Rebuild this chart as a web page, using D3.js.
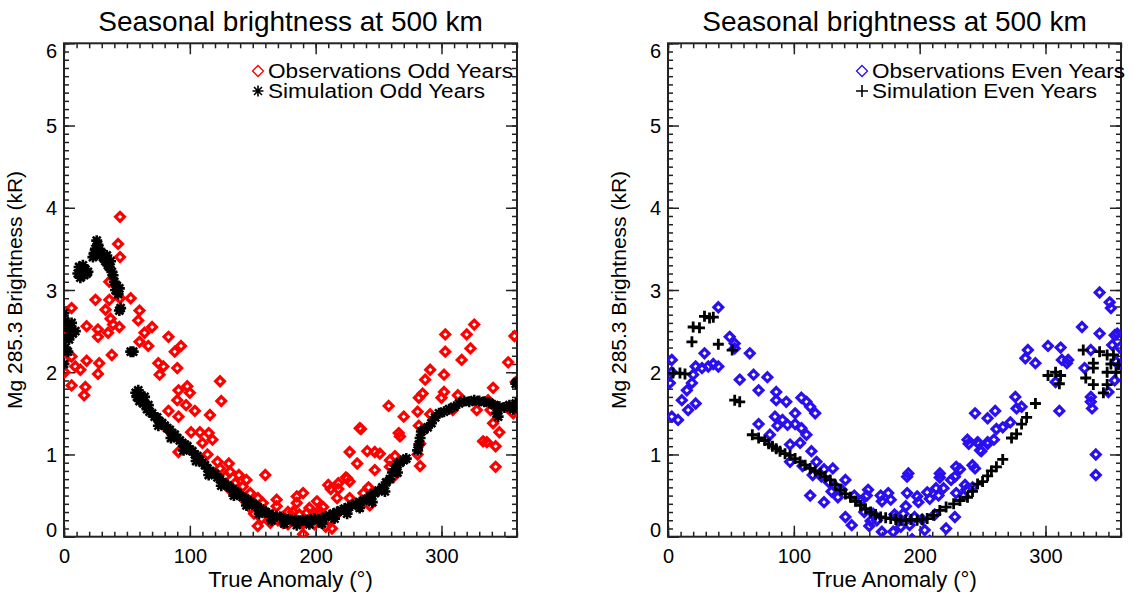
<!DOCTYPE html>
<html>
<head>
<meta charset="utf-8">
<script src="https://cdn.jsdelivr.net/npm/d3@7"></script>
<style>
  body { margin: 0; background: #fff; }
  text { font-family: "Liberation Sans", Arial, sans-serif; fill: #000; }
</style>
</head>
<body>
<div id="chart"></div>
<script>
// Tick values and titles
const xTicks = [0, 100, 200, 300];
const yTicks = [0, 1, 2, 3, 4, 5, 6];
const titleText = "Seasonal brightness at 500 km";
const xLabel = "True Anomaly (\u00b0)";
const yLabel = "Mg 285.3 Brightness (kR)";

// Odd years: observations [true anomaly, brightness]
const oddObs = [
  [44.5,3.89],[43,3.56],[44.5,3.40],[36,3.1],[25,2.88],[36,2.88],[44.5,2.9],[53,2.9],[6,2.78],[33,2.76],
  [60,2.75],[37,2.65],[59,2.63],[18,2.56],[39,2.58],[27,2.52],[44,2.55],[35,2.48],[70,2.55],[1.5,2.45],
  [27,2.43],[64,2.48],[83,2.43],[60,2.37],[67,2.32],[93,2.32],[88,2.25],[38,2.21],[6,2.19],[0.5,2.15],
  [18,2.14],[28,2.11],[9,2.07],[13,2.03],[75,2.11],[79,2.07],[90,2.05],[76,1.97],[27,1.98],[0.5,2.0],
  [6,1.84],[17,1.82],[16,1.72],[124,1.89],[125,1.65],[98,1.83],[100,1.75],[91,1.78],[90,1.66],[97,1.6],
  [104,1.53],[83,1.53],[116,1.48],[91,1.46],[101,1.27],[108,1.27],[115,1.26],[118,1.18],[83,1.3],[110,1.14],
  [91,1.03],[114,1.0],[122,0.91],[131,0.89],[124,0.83],[132,0.79],[139,0.75],[128,0.73],[145,0.69],[160,0.75],
  [136,0.65],[142,0.61],[148,0.53],[132,0.57],[154,0.47],[158,0.41],[169,0.45],[169,0.37],[161,0.29],[154,0.13],
  [164,0.17],[174,0.17],[178,0.3],[185,0.41],[190,0.53],[185,0.49],[193,0.29],[190,0.16],[190,0.03],[201,0.43],
  [201,0.29],[206,0.36],[206,0.2],[211,0.2],[217,0.47],[210,0.63],[218,0.65],[225,0.71],[227,0.67],[227,0.47],
  [235,1.32],[227,1.03],[233,0.89],[241,1.04],[247,1.03],[251,1.01],[247,0.81],[242,0.6],[238,0.53],[243,0.38],
  [258,1.59],[266,1.26],[259,0.93],[265,0.89],[174,0.24],[182,0.3],[196,0.2],[204,0.3],[170,0.2],[224,0.72],
  [236,1.31],[270,1.46],[267,1.22],[263,0.98],[259,0.85],[262,0.73],[282,1.69],[285,1.74],[287,1.91],[291,2.03],
  [302,1.97],[300,1.69],[302,1.76],[313,1.72],[309,1.54],[303,2.25],[303,2.46],[316,2.15],[320,2.46],[323,2.29],
  [326,2.58],[281,1.52],[282,1.35],[283,1.13],[281,1.0],[283,0.86],[291,1.49],[328,1.54],[337,1.66],[341,1.81],
  [339,1.54],[343,1.58],[341,1.38],[346,1.27],[333,1.16],[336,1.15],[343,1.1],[343,0.85],[353,2.12],[358,2.44],
  [359,1.88],[353,1.56],[357,1.5],[178,0.15],[183,0.22],[187,0.27],[195,0.35],[199,0.15],[208,0.12],[213,0.1],
  [215,0.25],[148,0.35],[151,0.28],[157,0.22],[145,0.42],[212,0.58],[218,0.58]
];

// Odd years: simulation
const oddSim = [
  [0,2.72],[1,2.62],[3,2.55],[5,2.5],[7,2.47],[9,2.5],[2,2.42],[4,2.4],[6,2.6],[1,2.3],[3,2.25],[0,2.1],
  [11,3.2],[12,3.28],[13,3.15],[14,3.22],[15,3.3],[16,3.18],[17,3.25],[18,3.2],[19,3.22],
  [23,3.4],[24,3.45],[25,3.5],[26,3.6],[27,3.55],[28,3.5],[29,3.42],[30,3.45],[31,3.4],[32,3.38],[33,3.35],
  [34,3.42],[35,3.3],[36,3.28],[37,3.35],[38,3.22],[39,3.18],[40,3.1],[41,3.0],[42,3.05],[43,2.95],[44,3.02],
  [44,2.75],[45,2.78],[53,2.25],[55,2.25],
  [57,1.75],[58,1.7],[59,1.78],[60,1.65],[61,1.72],[62,1.68],[63,1.62],[64,1.7],[65,1.6],[66,1.55],[67,1.6],[68,1.52],
  [70,1.5],[72,1.46],[74,1.45],[76,1.4],[78,1.38],[80,1.35],[82,1.32],[84,1.3],[86,1.26],[88,1.24],[90,1.2],
  [92,1.17],[94,1.14],[96,1.12],[98,1.1],[100,1.06],[102,1.04],[104,1.0],[106,0.98],[108,0.93],[110,0.9],
  [112,0.87],[114,0.83],[116,0.8],[118,0.78],[120,0.76],[122,0.72],[124,0.7],[126,0.66],[128,0.64],[130,0.62],
  [132,0.6],[134,0.58],[136,0.55],[138,0.53],[140,0.5],[142,0.48],[144,0.46],[146,0.44],[148,0.42],[150,0.4],
  [152,0.38],[154,0.36],[156,0.34],[158,0.32],[160,0.3],[163,0.28],[166,0.26],[169,0.25],[172,0.24],[175,0.22],
  [178,0.21],[181,0.2],[184,0.2],[187,0.19],[190,0.2],[193,0.2],[196,0.21],[199,0.22],[202,0.2],[205,0.22],
  [208,0.24],[211,0.26],[214,0.28],[217,0.3],[220,0.32],[223,0.34],[226,0.36],[229,0.38],[232,0.4],[235,0.42],
  [238,0.44],[241,0.46],[244,0.5],[247,0.53],[250,0.56],[253,0.6],[256,0.66],[259,0.7],[261,0.78],[263,0.82],
  [265,0.88],[267,0.9],[270,0.93],[272,0.95],[281,1.05],[282,1.12],[283,1.2],[284,1.28],[286,1.3],[289,1.33],
  [292,1.38],[295,1.45],[298,1.5],[302,1.52],[306,1.55],[310,1.58],[314,1.62],[318,1.65],[322,1.64],[326,1.66],
  [330,1.65],[334,1.64],[338,1.63],[342,1.6],[346,1.58],[350,1.57],[354,1.6],[357,1.55],[359,1.62],[359,1.86],
  [360,1.88],[345,1.46],[344,1.5],
  [75,1.35],[85,1.2],[95,1.05],[105,0.92],[115,0.75],[125,0.62],[135,0.5],[145,0.38],[155,0.28],[165,0.2],
  [175,0.16],[185,0.14],[195,0.15],[205,0.16],[215,0.22],[225,0.28],[235,0.35],[245,0.42],[255,0.55],[265,0.78]
];

// Even years: observations
const evenObs = [
  [40,2.79],[49,2.43],[53,2.35],[53,2.29],[65,2.23],[29,2.23],[3,2.15],[3,2.0],[22,2.07],[27,2.05],
  [32,2.07],[36,2.1],[40,2.07],[20,1.97],[19,1.87],[15,1.78],[1.5,1.87],[11,1.66],[16,1.54],[22,1.62],
  [3,1.46],[8,1.42],[57,1.91],[68,1.97],[72,1.78],[79,1.94],[86,1.76],[86,1.66],[94,1.64],[106,1.69],
  [110,1.64],[113,1.58],[117,1.5],[101,1.5],[85,1.46],[91,1.42],[87,1.35],[95,1.36],[101,1.37],[106,1.32],
  [110,1.24],[72,1.37],[81,1.24],[340,1.0],[340,0.75],[97,1.12],[105,1.14],[114,1.04],[97,0.91],[107,0.86],
  [118,0.91],[124,0.82],[115,0.75],[122,0.73],[131,0.83],[113,0.5],[124,0.42],[128,0.66],[133,0.61],[138,0.57],
  [141,0.69],[135,0.48],[130,0.55],[141,0.24],[146,0.14],[148,0.5],[153,0.43],[158,0.5],[156,0.3],[161,0.19],
  [160,0.13],[170,0.43],[177,0.45],[170,0.06],[180,0.27],[179,0.06],[182,0.24],[190,0.73],[190,0.53],[189,0.37],
  [192,0.14],[194,-0.03],[199,0.42],[202,0.21],[204,0.08],[208,0.46],[208,-0.05],[212,0.27],[215,0.5],[216,0.72],
  [219,0.59],[221,0.1],[228,0.24],[228,0.73],[232,0.82],[235,0.5],[237,0.57],[242,0.6],[244,0.83],[239,1.13],
  [247,1.13],[249,1.04],[254,1.13],[284,2.17],[286,2.27],[292,2.11],[302,2.32],[312,2.3],[313,2.15],[318,2.15],
  [308,1.88],[311,1.53],[276,1.7],[277,1.56],[281,1.58],[244,1.5],[254,1.44],[260,1.53],[261,1.31],[266,1.33],
  [272,1.39],[238,1.18],[246,1.15],[254,1.15],[259,1.18],[248,1.05],[242,0.87],[229,0.85],[216,0.77],[191,0.77],
  [225,0.69],[236,0.63],[229,0.53],[213,0.59],[206,0.54],[198,0.49],[175,0.53],[169,0.5],[159,0.57],[329,2.55],
  [343,2.47],[343,2.97],[351,2.85],[352,2.78],[355,2.45],[357,2.47],[353,2.33],[356,2.13],[355,1.9],[350,1.76],
  [336,2.27],[331,2.05],[336,1.7],[336,1.64],[337,1.56],[317,2.11],[184,0.2],[187,0.28],[196,0.24],[185,0.12],
  [166,0.2],[163,0.28],[359,2.3],[360,2.1]
];

// Even years: simulation
const evenSim = [
  [20,2.55],[25,2.54],[29,2.68],[33,2.66],[36,2.67],[19,2.37],[40,2.34],[51,2.27],[4,1.99],[9.5,1.99],
  [13.5,1.98],[53,1.66],[57,1.64],[67,1.24],[72,1.2],[77,1.17],[80,1.13],[83,1.1],[86,1.07],[89,1.04],
  [93,1.01],[97,0.99],[101,0.95],[105,0.91],[109,0.87],[113,0.83],[117,0.8],[121,0.77],[125,0.73],[129,0.69],
  [133,0.63],[137,0.57],[141,0.52],[145,0.48],[149,0.43],[153,0.38],[157,0.34],[161,0.3],[165,0.27],[169,0.24],
  [173,0.23],[177,0.22],[181,0.21],[185,0.2],[189,0.2],[193,0.21],[198,0.2],[202,0.21],[206,0.22],[211,0.26],
  [216,0.32],[221,0.36],[227,0.4],[232,0.44],[238,0.48],[242,0.55],[246,0.64],[250,0.67],[254,0.74],[257,0.8],
  [261,0.85],[266,0.94],[273,1.2],[277,1.25],[281,1.37],[285,1.45],[292,1.62],[302,1.96],[308,2.0],[312,1.96],
  [311,1.86],[330,2.27],[332,1.93],[338,2.11],[338,1.85],[343,2.25],[349,2.21],[354,2.21],[349,2.0],[349,1.85],
  [338,2.05],[358,2.09],[346,1.75],[352,2.1],[356,2.0]
];

const width = 1134, height = 594;
const svg = d3.select("#chart").append("svg")
  .attr("width", width).attr("height", height);

// symbol paths
function diamond(r) { return `M0,${-r}L${r},0L0,${r}L${-r},0Z`; }
function plus(r) { return `M${-r},0H${r}M0,${-r}V${r}`; }
function asterisk(r) {
  const d = r * 0.72;
  return `M${-r},0H${r}M0,${-r}V${r}M${-d},${-d}L${d},${d}M${-d},${d}L${d},${-d}`;
}

function drawPanel(left, obs, sim, obsColor, simShape, legendObs, legendSim, obsLen, simLen, id) {
  const right = left + 453;
  const top = 43.3, bottom = 536.7;
  const x = d3.scaleLinear().domain([0, 360]).range([left, right]);
  const y = d3.scaleLinear().domain([0, 6]).range([bottom, top]);

  const g = svg.append("g");

  g.append("clipPath").attr("id", "clip" + id)
    .append("rect").attr("x", left).attr("y", top)
    .attr("width", right - left).attr("height", bottom - top);

  // title and axis labels
  g.append("text").attr("x", (left + right) / 2).attr("y", 31)
    .attr("text-anchor", "middle").style("font-size", "28px").text(titleText);
  g.append("text").attr("x", (left + right) / 2).attr("y", 587)
    .attr("text-anchor", "middle").style("font-size", "22px").text(xLabel);
  g.append("text")
    .attr("transform", `translate(${left - 42},${(top + bottom) / 2}) rotate(-90)`)
    .attr("text-anchor", "middle").style("font-size", "21px").text(yLabel);

  const xMinor = d3.range(0, 361, 10);
  const yMinor = d3.range(0, 61).map(d => d / 10);

  // bottom axis with labels
  const xb = g.append("g").attr("transform", `translate(0,${bottom})`)
    .call(d3.axisBottom(x).tickValues(xTicks).tickFormat(d3.format("d"))
      .tickSizeInner(-11).tickSizeOuter(0).tickPadding(12));
  xb.selectAll("text").style("font-size", "20px").style("font-family", "Liberation Sans, Arial, sans-serif");
  g.append("g").attr("transform", `translate(0,${bottom})`)
    .call(d3.axisBottom(x).tickValues(xMinor).tickSize(-5).tickFormat(""));
  // top axis
  g.append("g").attr("transform", `translate(0,${top})`)
    .call(d3.axisTop(x).tickValues(xTicks).tickSize(-11).tickFormat(""));
  g.append("g").attr("transform", `translate(0,${top})`)
    .call(d3.axisTop(x).tickValues(xMinor).tickSize(-5).tickFormat(""));
  // left axis with labels
  const yl = g.append("g").attr("transform", `translate(${left},0)`)
    .call(d3.axisLeft(y).tickValues(yTicks).tickFormat(d3.format("d"))
      .tickSizeInner(-11).tickSizeOuter(0).tickPadding(7));
  yl.selectAll("text").style("font-size", "20px").style("font-family", "Liberation Sans, Arial, sans-serif")
    .attr("dy", d => d === 6 ? "0.7em" : d === 0 ? "-0.02em" : "0.35em");
  g.append("g").attr("transform", `translate(${left},0)`)
    .call(d3.axisLeft(y).tickValues(yMinor).tickSize(-5).tickFormat(""));
  // right axis
  g.append("g").attr("transform", `translate(${right},0)`)
    .call(d3.axisRight(y).tickValues(yTicks).tickSize(-11).tickFormat(""));
  g.append("g").attr("transform", `translate(${right},0)`)
    .call(d3.axisRight(y).tickValues(yMinor).tickSize(-5).tickFormat(""));

  g.selectAll(".domain").remove();
  g.selectAll(".tick line").attr("stroke", "#222").attr("stroke-width", 1.5);

  g.append("rect").attr("x", left).attr("y", top)
    .attr("width", right - left).attr("height", bottom - top)
    .attr("fill", "none").attr("stroke", "#222").attr("stroke-width", 2);

  const pts = g.append("g").attr("clip-path", `url(#clip${id})`);

  // observations (diamonds)
  pts.selectAll(".obs").data(obs).enter().append("path")
    .attr("class", "obs")
    .attr("transform", d => `translate(${x(d[0])},${y(d[1])})`)
    .attr("d", diamond(4.4))
    .attr("fill", "none").attr("stroke", obsColor).attr("stroke-width", 3.2)
    .attr("stroke-linejoin", "miter");

  // simulation
  pts.selectAll(".sim").data(sim).enter().append("path")
    .attr("class", "sim")
    .attr("transform", d => `translate(${x(d[0])},${y(d[1])})`)
    .attr("d", simShape === "plus" ? plus(5.5) : asterisk(5.5))
    .attr("fill", "none").attr("stroke", "#000").attr("stroke-width", simShape === "plus" ? 2.8 : 2.6);

  // legend
  const lx = left + 194, ly1 = 71, ly2 = 91;
  g.append("path").attr("transform", `translate(${lx},${ly1})`)
    .attr("d", diamond(5.5)).attr("fill", "none").attr("stroke", obsColor).attr("stroke-width", 1.3);
  g.append("path").attr("transform", `translate(${lx},${ly2})`)
    .attr("d", simShape === "plus" ? plus(6) : asterisk(5.5))
    .attr("fill", "none").attr("stroke", "#000").attr("stroke-width", 1.6);
  g.append("text").attr("x", lx + 10).attr("y", ly1 + 7).style("font-size", "20px")
    .attr("textLength", obsLen).attr("lengthAdjust", "spacingAndGlyphs").text(legendObs);
  g.append("text").attr("x", lx + 10).attr("y", ly2 + 7).style("font-size", "20px")
    .attr("textLength", simLen).attr("lengthAdjust", "spacingAndGlyphs").text(legendSim);
}

drawPanel(64, oddObs, oddSim, "#ff0000", "asterisk",
  "Observations Odd Years", "Simulation Odd Years", 245, 217, "L");
drawPanel(668, evenObs, evenSim, "#2a10ee", "plus",
  "Observations Even Years", "Simulation Even Years", 253, 225, "R");
</script>
</body>
</html>
